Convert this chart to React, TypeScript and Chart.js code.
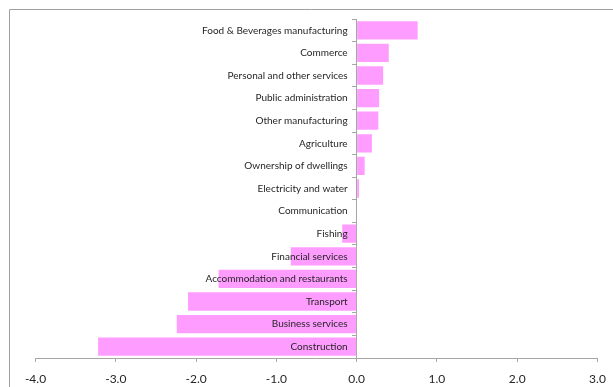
import React, { useEffect, useRef } from 'react';
import { Chart, registerables } from 'chart.js';

Chart.register(...registerables);

// Sector contributions (percentage points), top to bottom
const sectors = [
  'Food & Beverages manufacturing',
  'Commerce',
  'Personal and other services',
  'Public administration',
  'Other manufacturing',
  'Agriculture',
  'Ownership of dwellings',
  'Electricity and water',
  'Communication',
  'Fishing',
  'Financial services',
  'Accommodation and restaurants',
  'Transport',
  'Business services',
  'Construction',
];

const contributions = [
  0.76, 0.4, 0.33, 0.28, 0.27, 0.19, 0.1, 0.03, 0.0, -0.18, -0.82, -1.72, -2.1, -2.24, -3.22,
];

const xTicks = [-4, -3, -2, -1, 0, 1, 2, 3];

const AXIS_GRAY = '#a6a6a6';
const TEXT = '#262626';
const BAR_PINK = '#ff9cff';
const LABEL_FONT = '10px Lato';

// Thin grey frame along the top and left edge of the chart box
const framePlugin = {
  id: 'outerFrame',
  beforeDraw(chart: any) {
    const ctx = chart.ctx;
    ctx.save();
    ctx.strokeStyle = '#a0a0a0';
    ctx.lineWidth = 1;
    ctx.beginPath();
    ctx.moveTo(9.5, chart.height);
    ctx.lineTo(9.5, 9.5);
    ctx.lineTo(chart.width, 9.5);
    ctx.stroke();
    ctx.restore();
  },
};

// Category names sit just left of the zero line, on top of the bars
const sectorLabelPlugin = {
  id: 'sectorLabels',
  afterDatasetsDraw(chart: any) {
    const { ctx, scales } = chart;
    const xs = scales.x;
    const ys = scales.y;
    const x0 = xs.getPixelForValue(0) - 9;
    ctx.save();
    ctx.font = LABEL_FONT;
    ctx.fillStyle = TEXT;
    ctx.textAlign = 'right';
    ctx.textBaseline = 'middle';
    sectors.forEach((name, i) => {
      ctx.fillText(name, x0, ys.getPixelForValue(i));
    });
    ctx.restore();
  },
};

export default function App() {
  const canvasRef = useRef<HTMLCanvasElement | null>(null);

  useEffect(() => {
    if (!canvasRef.current) return;
    const chart = new Chart(canvasRef.current, {
      type: 'bar',
      data: {
        labels: sectors,
        datasets: [
          {
            data: contributions,
            backgroundColor: BAR_PINK,
            borderWidth: 0,
            categoryPercentage: 0.9,
            barPercentage: 0.9,
          },
        ],
      },
      options: {
        indexAxis: 'y',
        animation: false,
        responsive: false,
        layout: { padding: { left: 35.5, right: 15.5, top: 19, bottom: 0 } },
        plugins: {
          legend: { display: false },
          tooltip: { enabled: false },
        },
        scales: {
          x: {
            type: 'linear',
            position: 'bottom',
            min: -4,
            max: 3,
            afterBuildTicks: (axis: any) => {
              axis.ticks = xTicks.map((v) => ({ value: v }));
            },
            afterFit: (axis: any) => {
              axis.height = 29;
              axis.paddingLeft = 0;
              axis.paddingRight = 0;
            },
            grid: {
              display: true,
              drawOnChartArea: false,
              drawTicks: true,
              tickLength: 4,
              color: AXIS_GRAY,
            },
            border: { display: true, color: AXIS_GRAY },
            ticks: {
              callback: (v: any) => Number(v).toFixed(1),
              font: { family: 'Lato', size: 12 },
              color: TEXT,
              padding: 10,
              maxRotation: 0,
              autoSkip: false,
            },
          },
          y: {
            type: 'category',
            position: { x: 0 } as any,
            offset: true,
            grid: {
              display: true,
              drawOnChartArea: false,
              drawTicks: true,
              tickLength: 4,
              offset: true,
              color: AXIS_GRAY,
            },
            border: { display: true, color: AXIS_GRAY },
            ticks: { display: false },
          },
        },
      },
      plugins: [framePlugin, sectorLabelPlugin],
    });
    return () => chart.destroy();
  }, []);

  return (
    <div style={{ position: 'fixed', left: 0, top: 0, width: 613, height: 387, background: '#ffffff' }}>
      <canvas ref={canvasRef} width={613} height={387} style={{ display: 'block' }} />
    </div>
  );
}
